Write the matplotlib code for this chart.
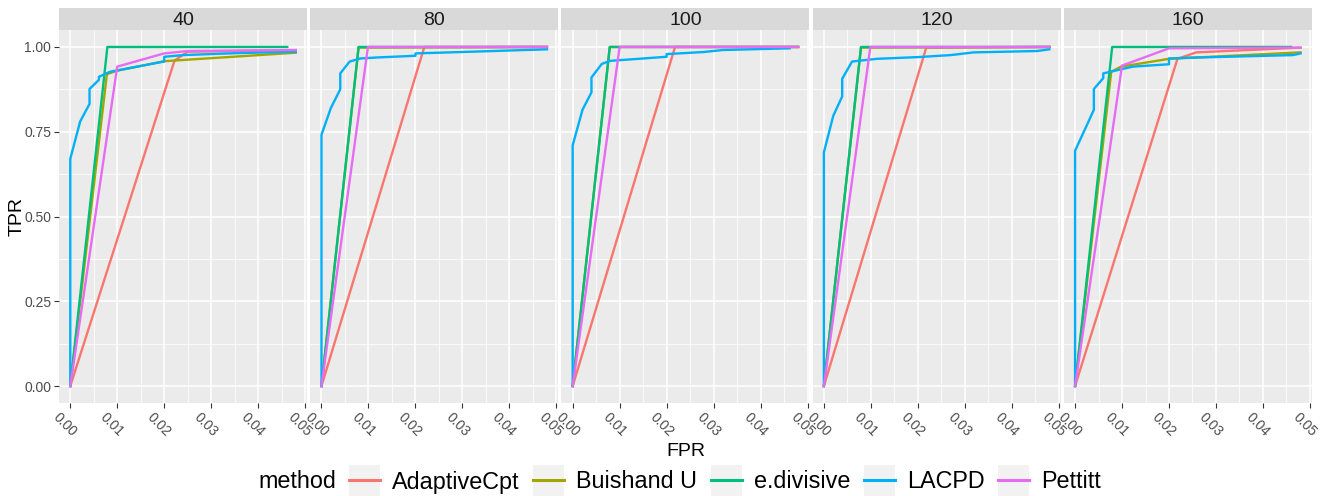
import matplotlib
matplotlib.use("Agg")
import matplotlib.pyplot as plt
from matplotlib.lines import Line2D
from matplotlib.patches import Rectangle
from matplotlib.legend_handler import HandlerLine2D
from matplotlib.ticker import MultipleLocator, FormatStrFormatter
import matplotlib.transforms as mtransforms

plt.rcParams['font.family'] = ['Liberation Sans', 'DejaVu Sans']

panels = [40, 80, 100, 120, 160]
methods = ["AdaptiveCpt", "Buishand U", "e.divisive", "LACPD", "Pettitt"]
colors = ["#F8766D", "#A3A500", "#00BF7D", "#00B0F6", "#E76BF3"]
x_ticks = [0.00, 0.01, 0.02, 0.03, 0.04, 0.05]
y_ticks = [0.00, 0.25, 0.50, 0.75, 1.00]

# (FPR, TPR) per panel
adaptive = {
    40: ([0, 0.0222, 0.025, 0.048], [0, 0.96, 0.986, 0.99]),
    80: ([0, 0.0219, 0.048], [0, 1.0, 1.0]),
    100: ([0, 0.0218, 0.048], [0, 1.0, 1.0]),
    120: ([0, 0.0218, 0.048], [0, 0.998, 1.0]),
    160: ([0, 0.0218, 0.0258, 0.048], [0, 0.965, 0.984, 0.998]),
}
buishand = {
    40: ([0, 0.0078, 0.01, 0.02, 0.048], [0, 0.92, 0.93, 0.958, 0.983]),
    80: ([0, 0.0079, 0.048], [0, 0.998, 1.0]),
    100: ([0, 0.0079, 0.048], [0, 1.0, 1.0]),
    120: ([0, 0.0079, 0.048], [0, 0.998, 1.0]),
    160: ([0, 0.0077, 0.0098, 0.02, 0.048], [0, 0.927, 0.942, 0.965, 0.984]),
}
edivisive = {
    40: ([0, 0.0079, 0.0462], [0, 1.0, 1.0]),
    80: ([0, 0.0079, 0.048], [0, 1.0, 1.0]),
    100: ([0, 0.0079, 0.048], [0, 1.0, 1.0]),
    120: ([0, 0.0079, 0.048], [0, 1.0, 1.0]),
    160: ([0, 0.0079, 0.046], [0, 1.0, 1.0]),
}
lacpd = {
    40: ([0, 0, 0.0021, 0.0041, 0.0041, 0.0061, 0.0061, 0.0085, 0.02, 0.02, 0.024, 0.036, 0.048],
         [0, 0.67, 0.78, 0.832, 0.876, 0.903, 0.912, 0.927, 0.957, 0.971, 0.976, 0.982, 0.986]),
    80: ([0, 0, 0.002, 0.004, 0.004, 0.006, 0.0083, 0.0118, 0.02, 0.02, 0.032, 0.048],
         [0, 0.741, 0.82, 0.875, 0.922, 0.957, 0.966, 0.969, 0.974, 0.981, 0.986, 0.993]),
    100: ([0, 0, 0.0021, 0.004, 0.004, 0.0062, 0.008, 0.02, 0.02, 0.0278, 0.032, 0.0462],
          [0, 0.71, 0.815, 0.866, 0.91, 0.95, 0.959, 0.971, 0.979, 0.985, 0.991, 0.996]),
    120: ([0, 0, 0.002, 0.0039, 0.0039, 0.006, 0.0113, 0.0199, 0.027, 0.0319, 0.0454, 0.048],
          [0, 0.689, 0.797, 0.854, 0.906, 0.957, 0.965, 0.97, 0.976, 0.984, 0.988, 0.993]),
    160: ([0, 0, 0.0024, 0.004, 0.004, 0.006, 0.006, 0.0123, 0.02, 0.02, 0.0237, 0.0464, 0.048],
          [0, 0.694, 0.766, 0.815, 0.876, 0.908, 0.922, 0.942, 0.949, 0.966, 0.968, 0.976, 0.981]),
}
pettitt = {
    40: ([0, 0.01, 0.02, 0.025, 0.048], [0, 0.942, 0.981, 0.988, 0.991]),
    80: ([0, 0.0099, 0.048], [0, 1.0, 1.0]),
    100: ([0, 0.01, 0.048], [0, 1.0, 1.0]),
    120: ([0, 0.0099, 0.048], [0, 1.0, 1.0]),
    160: ([0, 0.01, 0.02, 0.048], [0, 0.945, 0.996, 0.998]),
}
series = [adaptive, buishand, edivisive, lacpd, pettitt]


class KeyHandler(HandlerLine2D):
    # ggplot-style legend key: grey square behind the line
    def create_artists(self, legend, orig_handle, xdescent, ydescent,
                       width, height, fontsize, trans):
        bg = Rectangle((-xdescent, -ydescent + height / 2 - width / 2), width, width,
                       facecolor="#F2F2F2", edgecolor="none", transform=trans)
        arts = super().create_artists(legend, orig_handle, xdescent, ydescent,
                                      width, height, fontsize, trans)
        return [bg] + list(arts)


W, H = 1325, 496
fig = plt.figure(figsize=(W / 100, H / 100), dpi=100)

left0, pw, step = 59, 248, 251.2
top_strip, strip_bot, panel_bot = 8, 30, 403

for i, n in enumerate(panels):
    x0 = (left0 + i * step) / W
    ax = fig.add_axes([x0, 1 - panel_bot / H, pw / W, (panel_bot - strip_bot) / H])
    ax.set_facecolor("#EBEBEB")
    for s in ax.spines.values():
        s.set_visible(False)
    for m, col, data in zip(methods, colors, series):
        fx, ty = data[n]
        ax.plot(fx, ty, color=col, lw=1.7, solid_joinstyle="round")
    ax.set_xlim(-0.0024, 0.0504)
    ax.set_ylim(-0.05, 1.05)
    ax.set_xticks(x_ticks)
    ax.xaxis.set_major_formatter(FormatStrFormatter("%.2f"))
    ax.xaxis.set_minor_locator(MultipleLocator(0.005))
    ax.yaxis.set_minor_locator(MultipleLocator(0.125))
    ax.set_yticks(y_ticks)
    ax.yaxis.set_major_formatter(FormatStrFormatter("%.2f"))
    ax.grid(which="major", color="white", lw=1.1)
    ax.grid(which="minor", color="white", lw=0.55)
    ax.set_axisbelow(True)
    ax.tick_params(which="minor", length=0)
    ax.tick_params(which="major", length=3.5, width=0.8, color="#333333",
                   labelcolor="#4D4D4D", labelsize=10, pad=2)
    for lab in ax.get_xticklabels():
        lab.set_rotation(-45)
        lab.set_ha("center")
        lab.set_va("top")
        lab.set_transform(lab.get_transform() +
                          mtransforms.ScaledTranslation(-5 / 100, 0, fig.dpi_scale_trans))
    if i > 0:
        ax.tick_params(axis="y", left=False, labelleft=False)

    sax = fig.add_axes([x0, 1 - strip_bot / H, pw / W, (strip_bot - top_strip) / H])
    sax.set_facecolor("#D9D9D9")
    sax.set_xticks([])
    sax.set_yticks([])
    for s in sax.spines.values():
        s.set_visible(False)
    sax.text(0.5, 0.45, str(n), ha="center", va="center", fontsize=14,
             color="#1A1A1A", transform=sax.transAxes)

fig.text((left0 + (left0 + 4 * step + pw)) / 2 / W, 1 - 452 / H, "FPR",
         ha="center", va="center", fontsize=14)
fig.text(17 / W, 1 - 217 / H, "TPR", rotation=90, ha="center", va="center", fontsize=14)

handles = [Line2D([], [], color=c, lw=2.2) for c in colors]
fig.text(258 / W, 1 - 482 / H, "method", ha="left", va="center", fontsize=16.8)
fig.legend(handles, methods, loc="center left", bbox_to_anchor=(349 / W, 1 - 482 / H),
           ncol=5, frameon=False, fontsize=16.8, handlelength=1.33, handletextpad=0.5,
           columnspacing=0.6, borderpad=0, borderaxespad=0,
           handler_map={Line2D: KeyHandler()})

fig.savefig("out.png", dpi=100)
